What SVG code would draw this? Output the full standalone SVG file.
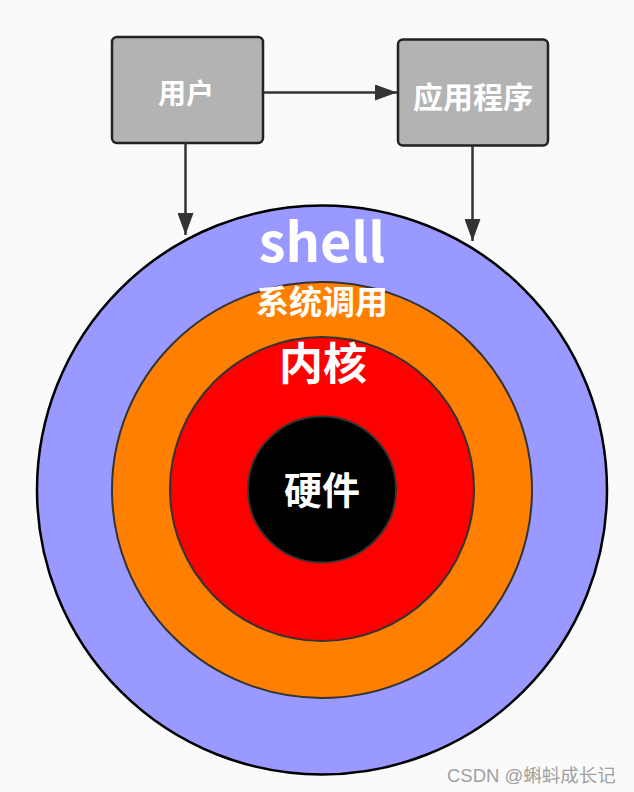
<svg xmlns="http://www.w3.org/2000/svg" width="634" height="792" viewBox="0 0 634 792">
  <defs>
    <marker id="arrow" viewBox="0 0 22 16" refX="22" refY="8" markerWidth="22" markerHeight="16" markerUnits="userSpaceOnUse" orient="auto">
      <path d="M0,0 L22,8 L0,16 Z" fill="#333333"/>
    </marker>
    <style>
      .box { fill: #b3b3b3; stroke: #222222; stroke-width: 2.5; }
      .lbl { font-family: "Noto Sans CJK SC", "Noto Sans", sans-serif; font-weight: bold; fill: #ffffff; text-anchor: middle; }
      .conn { stroke: #333333; stroke-width: 2.5; fill: none; marker-end: url(#arrow); }
      .ring { stroke: #333333; stroke-width: 2; }
    </style>
  </defs>
  <rect x="0" y="0" width="634" height="792" fill="#fafafa"/>

  <g id="shell">
    <ellipse cx="322" cy="490" rx="285" ry="284.5" fill="#9999ff" stroke="#000000" stroke-width="2.5"/>
    <text class="lbl" x="322" y="262" font-size="54">shell</text>
  </g>
  <g id="syscall">
    <ellipse class="ring" cx="322" cy="490" rx="210" ry="208" fill="#ff8000"/>
    <text class="lbl" x="322" y="314" font-size="33">系统调用</text>
  </g>
  <g id="kernel">
    <ellipse class="ring" cx="322" cy="489" rx="152" ry="152" fill="#ff0000"/>
    <text class="lbl" x="323" y="380" font-size="44">内核</text>
  </g>
  <g id="hardware">
    <ellipse class="ring" cx="322" cy="489.5" rx="74" ry="73" fill="#000000"/>
    <text class="lbl" x="322" y="504" font-size="38">硬件</text>
  </g>

  <g id="user">
    <rect class="box" x="112" y="37" width="151" height="106" rx="5"/>
    <text class="lbl" x="186" y="104" font-size="28">用户</text>
  </g>
  <g id="app">
    <rect class="box" x="398" y="39.5" width="150" height="106" rx="5"/>
    <text class="lbl" x="473" y="108" font-size="30">应用程序</text>
  </g>

  <g id="connectors">
    <line class="conn" x1="263" y1="92.5" x2="397" y2="92.5"/>
    <line class="conn" x1="185.5" y1="143" x2="185.5" y2="235"/>
    <line class="conn" x1="472.5" y1="146" x2="472.5" y2="241"/>
  </g>

  <text x="447" y="782" font-family="Liberation Sans, Noto Sans CJK SC, sans-serif" font-size="18.5" fill="#a0a0a0">CSDN @蝌蚪成长记</text>
</svg>
